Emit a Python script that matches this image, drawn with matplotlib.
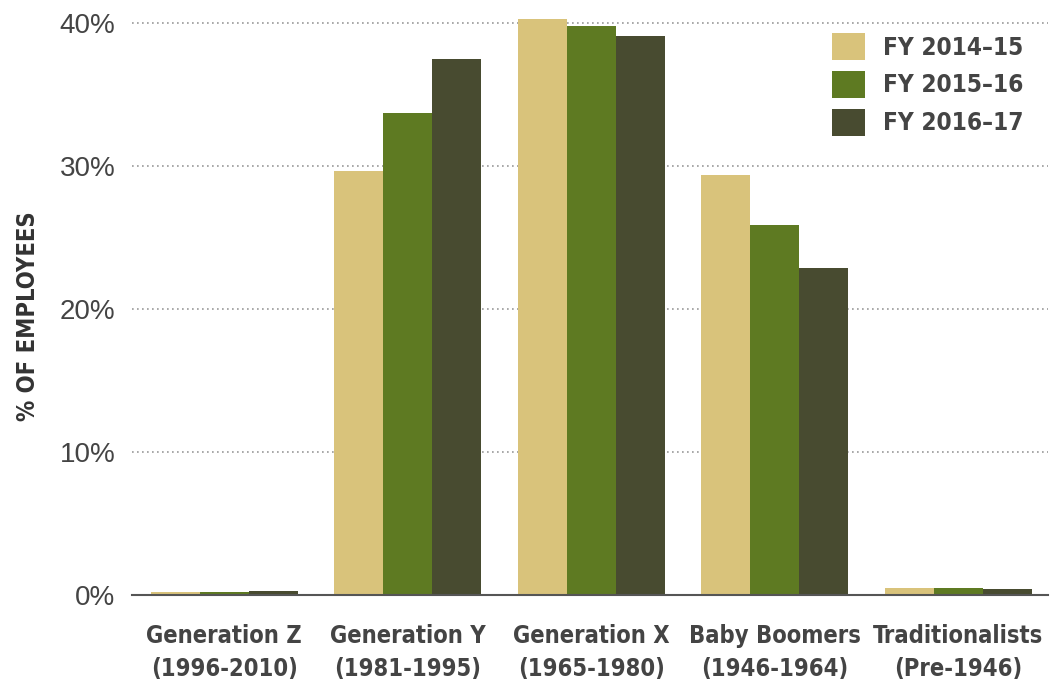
import numpy as np
import matplotlib.pyplot as plt
from matplotlib import font_manager
from matplotlib.font_manager import FontProperties

# generations and share of employees (%) per fiscal year
generations = ["Generation Z\n(1996-2010)", "Generation Y\n(1981-1995)", "Generation X\n(1965-1980)",
               "Baby Boomers\n(1946-1964)", "Traditionalists\n(Pre-1946)"]
years = ["FY 2014\u201315", "FY 2015\u201316", "FY 2016\u201317"]
fy1415 = [0.2, 29.65, 40.3, 29.4, 0.5]
fy1516 = [0.2, 33.7, 39.8, 25.9, 0.5]
fy1617 = [0.3, 37.5, 39.1, 22.9, 0.4]
colors = ["#D9C37B", "#5E7A22", "#484B30"]

# look for a condensed bold face among installed fonts
cands = []
for f in font_manager.fontManager.ttflist:
    st = f.stretch if isinstance(f.stretch, int) else 500
    label = (f.name + " " + f.fname).lower()
    if ("condensed" in label or "narrow" in label or st < 500) and str(f.weight) in ("bold", "700", "600", "semibold"):
        cands.append(f)
cands.sort(key=lambda f: ("liberation" not in f.fname.lower(), "dejavu" not in f.fname.lower(), f.fname))
if cands:
    cond = FontProperties(fname=cands[0].fname)
else:
    cond = FontProperties(family="DejaVu Sans", weight="bold")

fig = plt.figure(figsize=(10.58, 6.88), dpi=100)
ax = fig.add_axes([132/1058, 93/688, (1048-132)/1058, (595-2)/688])

x = np.arange(len(generations))
w = 0.267
for i, (vals, lab) in enumerate(zip([fy1415, fy1516, fy1617], years)):
    ax.bar(x + (i - 1) * w, vals, w, color=colors[i], label=lab, zorder=3)

ax.set_xlim(-0.503, 4.49)
ax.set_ylim(0, 41.5)
ax.set_yticks([0, 10, 20, 30, 40])
ax.set_yticklabels(["0%", "10%", "20%", "30%", "40%"], fontsize=20, color="#444444",
                   family="Liberation Sans")
ax.set_xticks(x)
ax.set_xticklabels(generations, color="#444444", fontproperties=cond, linespacing=1.45)
for t in ax.get_xticklabels():
    t.set_fontsize(17)
ax.tick_params(axis="both", length=0)
ax.tick_params(axis="x", pad=21)
ax.tick_params(axis="y", pad=12)

for s in ["top", "right", "left"]:
    ax.spines[s].set_visible(False)
ax.spines["bottom"].set_color("#555555")
ax.spines["bottom"].set_linewidth(1.5)
ax.spines["bottom"].set_zorder(4)

for yv in [10, 20, 30, 40]:
    ax.axhline(yv, color="#999999", linestyle=(0, (1, 2)), linewidth=1.2, zorder=1)

ax.set_ylabel("% OF EMPLOYEES", color="#333333", fontproperties=cond, fontsize=17)
ax.yaxis.set_label_coords(-0.1, 0.47)

lp = cond.copy()
lp.set_size(17.5)
leg = ax.legend(loc="upper right", bbox_to_anchor=(0.997, 0.985), frameon=False, prop=lp,
                handlelength=1.36, handleheight=1.36, handletextpad=0.75, labelspacing=0.43)
for t in leg.get_texts():
    t.set_color("#444444")

fig.savefig("out.png", dpi=100)
